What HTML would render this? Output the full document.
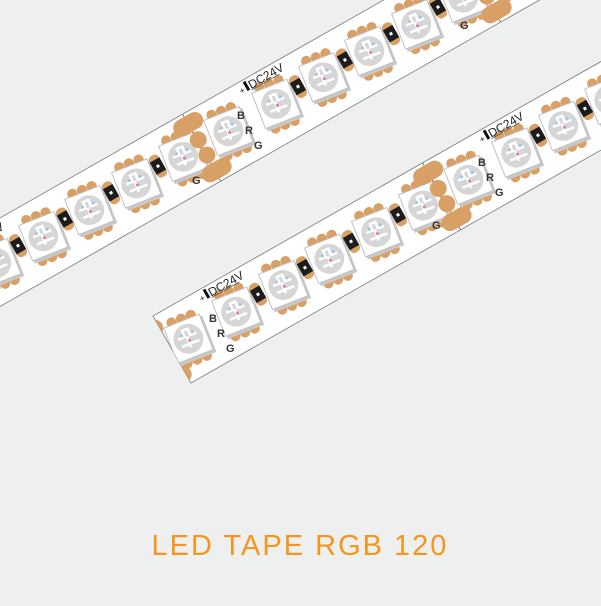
<!DOCTYPE html>
<html><head><meta charset="utf-8"><style>
html,body{margin:0;padding:0;background:#eef0ef;}
.t{font-family:"Liberation Sans",sans-serif;}
</style></head><body>
<svg width="601" height="601" viewBox="0 0 601 601" xmlns="http://www.w3.org/2000/svg">
<rect width="601" height="601" fill="#eef0ef"/>
<defs>
<g id="led">
 <g transform="rotate(8) scale(1.15)">
  <g fill="#d9a066">
   <circle cx="-9" cy="-19" r="4.5"/><circle cx="0" cy="-19" r="4.5"/><circle cx="9" cy="-19" r="4.5"/>
   <circle cx="-9" cy="19" r="4.5"/><circle cx="0" cy="19" r="4.5"/><circle cx="9" cy="19" r="4.5"/>
  </g>
  <rect x="-16" y="-15" width="34" height="34" fill="#c8c8c8"/>
  <rect x="-17" y="-17" width="33" height="33" fill="#fff" stroke="#bdbdbd" stroke-width="0.8"/>
  <circle cx="-0.5" cy="-0.5" r="13" fill="#d6d6d6"/>
  <path d="M-9,-3 h6 v-6 h5 v6 h6 M-8,4 h16 M-1,-3 v10" stroke="#fff" stroke-width="2.2" fill="none"/>
  <circle cx="-5" cy="-5" r="1.3" fill="#9ec6e6"/>
  <circle cx="5" cy="-5" r="1.3" fill="#9ec6e6"/>
  <circle cx="0" cy="1" r="1.3" fill="#e07aa0"/>
 </g>
</g>
<g id="res">
 <rect x="-5.5" y="-12" width="11" height="24" rx="4.5" fill="#d9a066"/>
 <rect x="-5.5" y="-7" width="11" height="14" fill="#1c1c1c"/>
 <rect x="-1.5" y="-1.5" width="3" height="3" fill="#fff"/>
</g>
<g id="cut">
 <line x1="0" y1="0" x2="0" y2="77" stroke="#333" stroke-width="0.6"/>
 <g fill="#d9a066">
  <rect x="-16" y="3" width="32" height="17" rx="8.5"/>
  <circle cx="1" cy="30" r="8.5"/>
  <circle cx="1" cy="47.5" r="8.5"/>
  <rect x="-14" y="57" width="32" height="17" rx="8.5"/>
 </g>
</g>
<g id="seg">
 <use href="#cut"/>
 <use href="#led" x="32" y="38"/>
 <use href="#led" x="87" y="38"/>
 <use href="#led" x="141" y="38"/>
 <use href="#led" x="194" y="38"/>
 <use href="#led" x="248" y="38"/>
 <use href="#led" x="302" y="38"/>
 <use href="#res" x="114" y="33"/>
 <use href="#res" x="168" y="33"/>
 <use href="#res" x="221" y="33"/>
 <use href="#res" x="275" y="33"/>
 <rect x="68" y="2" width="3" height="10" fill="#111"/>
 <line x1="72" y1="13" x2="104" y2="13" stroke="#333" stroke-width="0.6"/>
</g>
<clipPath id="lc"><rect x="0" y="0" width="700" height="77"/></clipPath>
<clipPath id="uc"><rect x="-500" y="0" width="1200" height="77"/></clipPath>
</defs>

<g transform="translate(153,131) rotate(-29.6)">
 <rect x="-500" y="0" width="1200" height="77" fill="#fff" stroke="#777" stroke-width="0.8"/>
 <g clip-path="url(#uc)">
  <use href="#seg" x="-288"/>
  <use href="#seg" x="34"/>
  <use href="#seg" x="356"/>
 </g>
 <g class="t" fill="#222">
  <text x="-227" y="12" font-size="9">+</text><text x="-216" y="12" font-size="12">DC24V</text>
  <text x="95" y="12" font-size="9">+</text><text x="106" y="12" font-size="12">DC24V</text>
  <text x="417" y="12" font-size="9">+</text><text x="428" y="12" font-size="12">DC24V</text>
 </g>
</g>
<g transform="translate(153,316) rotate(-29.6)">
 <rect x="0" y="0" width="700" height="77" fill="#fff" stroke="#777" stroke-width="0.8"/>
 <g clip-path="url(#lc)">
  <use href="#seg" x="-12"/>
  <use href="#seg" x="310"/>
 </g>
 <g class="t" fill="#222">
  <text x="49" y="12" font-size="9">+</text><text x="60" y="12" font-size="12">DC24V</text>
  <text x="371" y="12" font-size="9">+</text><text x="382" y="12" font-size="12">DC24V</text>
 </g>
</g>

<g class="t" font-size="11" font-weight="bold" fill="#333">
 <text x="209" y="322">B</text><text x="217" y="337">R</text><text x="226" y="352">G</text>
 <text x="478" y="166">B</text><text x="486" y="181">R</text><text x="495" y="196">G</text>
 <text x="237" y="119">B</text><text x="245" y="134">R</text><text x="254" y="149">G</text>
 <text x="432" y="229">G</text><text x="192" y="184">G</text><text x="460" y="29">G</text>
</g>

<text class="t" x="300" y="555" text-anchor="middle" font-size="29" letter-spacing="2" fill="#f7941d">LED TAPE RGB 120</text>
</svg>
</body></html>
